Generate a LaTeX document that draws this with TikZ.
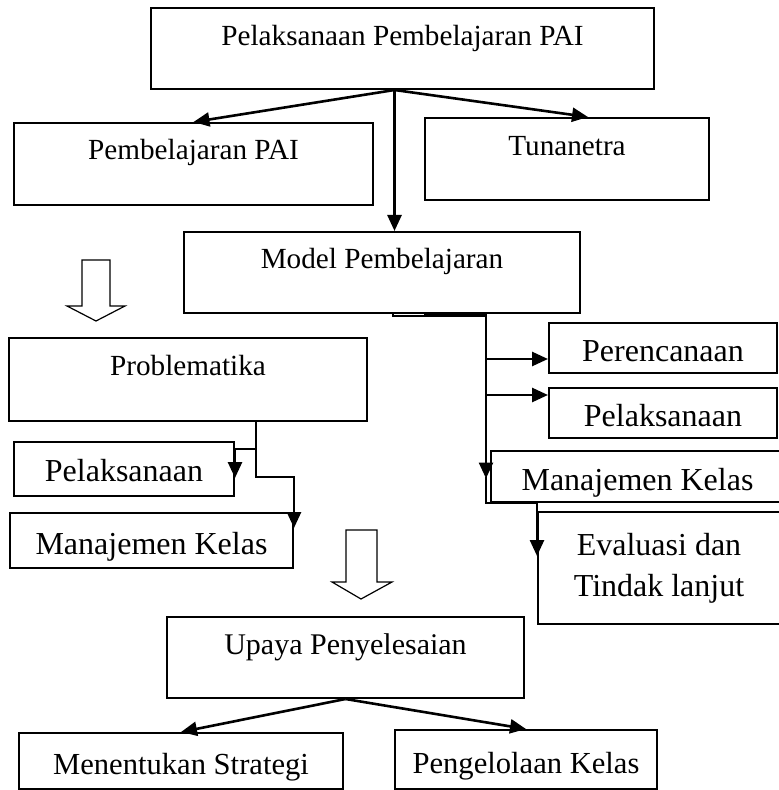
\documentclass[tikz,border=0pt]{standalone}
\usepackage{fontspec}
\setmainfont{Liberation Serif}
\usetikzlibrary{arrows.meta,calc}
\tikzset{
  box/.style={draw,line width=1pt,anchor=north west,inner xsep=0pt,inner ysep=0pt,align=center,font=\fontsize{14.6pt}{18pt}\selectfont},
  bigbox/.style={box,font=\fontsize{16pt}{20.5pt}\selectfont},
  lowbox/.style={box,font=\fontsize{15.3pt}{19pt}\selectfont},
  flow/.style={-{Triangle[length=8pt,width=7pt]},line width=1.3pt},
  plainline/.style={line width=1.3pt},
  thinline/.style={line width=.8pt},
  hollow/.style={draw,fill=white,line width=.6pt,line join=miter}
}
\begin{document}
\begin{tikzpicture}[x=.5pt,y=-.5pt]
  \useasboundingbox (0,0) rectangle (778,790);
  % top row
  \node[box,minimum width=251.5pt,text height=19pt,text depth=21.5pt] (top) at (150,7) {Pelaksanaan Pembelajaran PAI};
  \node[box,minimum width=179.5pt,text height=18.5pt,text depth=22.5pt] (pai) at (13,122) {Pembelajaran PAI};
  \node[box,minimum width=142pt,text height=19pt,text depth=22pt] (tuna) at (424,117) {Tunanetra};
  \node[box,minimum width=198pt,text height=18.5pt,text depth=22pt] (model) at (183,231) {Model Pembelajaran};
  % left branch
  \node[box,minimum width=179pt,text height=18.5pt,text depth=23pt] (prob) at (8,337) {Problematika};
  \node[bigbox,minimum width=110pt,text height=19.5pt,text depth=7.5pt] (pel) at (13,441) {Pelaksanaan};
  \node[bigbox,minimum width=141.5pt,text height=20.5pt,text depth=7pt] (mkl) at (9,512) {Manajemen Kelas};
  % right branch
  \node[bigbox,minimum width=114pt,text height=19pt,text depth=6pt] (per) at (548,322) {Perencanaan};
  \node[bigbox,minimum width=114pt,text height=19pt,text depth=6pt] (pelr) at (548,387) {Pelaksanaan};
  \node[bigbox,minimum width=146.5pt,text height=19.5pt,text depth=6pt] (mkr) at (490,450) {Manajemen Kelas};
  \node[bigbox,minimum width=121pt,minimum height=56pt] (eval) at (537,511) {Evaluasi dan\\Tindak lanjut};
  % bottom
  \node[box,minimum width=178.5pt,text height=18.5pt,text depth=22pt,font=\fontsize{15pt}{18pt}\selectfont] (upaya) at (166,616) {Upaya Penyelesaian};
  \node[lowbox,minimum width=162pt,text height=20.5pt,text depth=7.5pt] (ment) at (18,732) {Menentukan Strategi};
  \node[lowbox,minimum width=131pt,text height=21.5pt,text depth=8pt] (peng) at (394,729) {Pengelolaan Kelas};

  \coordinate (tj) at ($(top.south)+(-8,0)$);
  \coordinate (mj) at (486,316);
  \coordinate (pj) at (256,420);

  \draw[flow] (tj) -- (pai.north);
  \draw[flow] (tj) -- ($(tuna.north)+(21,0)$);
  \draw[flow] (tj) -- (tj |- model.north);

  \draw[thinline] ($(model.south)+(11,0)$) |- (mj);
  \draw[plainline] ($(model.south)+(42,0)$) -- (model.south -| mj) -- (mj);
  \draw[flow] ($(mj |- per.west)+(0,11)$) -- ($(per.west)+(0,11)$);
  \draw[flow] ($(mj |- pelr.west)+(0,-18)$) -- ($(pelr.west)+(0,-18)$);
  \draw[flow] (mj) -- ($(mj |- mkr.west)+(0,2)$);
  \draw[flow] (mj |- mkr.west) -- (mj |- mkr.south) -| ($(eval.west)+(0,-12)$);

  \draw[flow] (pj) |- ($(pel.north east)+(0,8)$) -- ($(pel.east)+(0,9)$);
  \draw[flow] (pj) -- ($(pj |- pel.east)+(0,8)$) -| ($(mkl.north east)+(0,16)$);

  \draw[flow] (upaya.south) -- (ment.north);
  \draw[flow] (upaya.south) -- (peng.north);

  % hollow arrows
  \draw[hollow] (82,260) -- (82,306) -- (67,306) -- (96,321) -- (125,306) -- (110,306) -- (110,260) -- cycle;
  \draw[hollow] (346,530) -- (346,582) -- (332,582) -- (361,599) -- (392,582) -- (377,582) -- (377,530) -- cycle;
\end{tikzpicture}
\end{document}
